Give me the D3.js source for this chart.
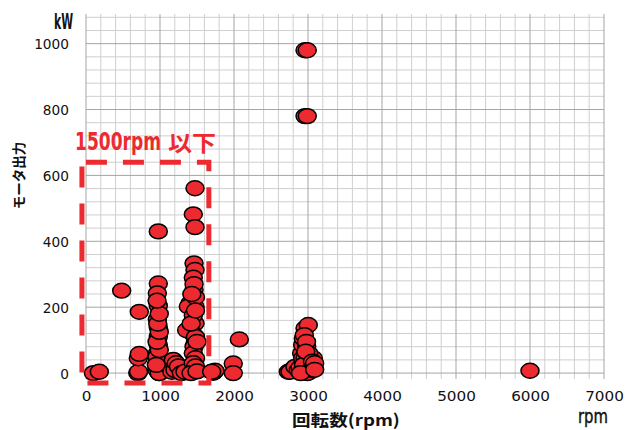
<!DOCTYPE html>
<html><head><meta charset="utf-8">
<script src="https://cdn.jsdelivr.net/npm/d3@7"></script>
<style>
html,body{margin:0;padding:0;background:#fff;}
svg{display:block;}
</style></head>
<body>
<svg id="chart" width="625" height="430"></svg>
<script>
// ---- data ----
const xTicks = [0,1000,2000,3000,4000,5000,6000,7000];
const yTicks = [0,200,400,600,800,1000];
const rpmValues = [
  100,180, 482, 720, 700,710,707,720,
  977,977,964,977,964,977,977,977,964,977,977,977,990,960,990,960,990,960,990,970,990,960,990,950,
  1180,1180,1160,1203,1220,1250,1290,
  1473,1450,1473,1460,1473,1460,1405,1473,1473,1440,1473,1460,1405,1338,1360,1383,1450,1480,1450,1480,1450,1480,1450,1480,1420,1500,1460,1420,1480,1430,1500,
  1720,1743,1698,
  1990,1990,2072,
  2734,2757,2824,2869,2892,2914,2928,2937,2960,3004,2982,2928,2960,3050,3072,3027,2960,2990,3000,2940,3010,2950,2980,3040,2900,2970,3060,3090,3090,
  2960,2990,2960,2990,
  6000
];
const kwValues = [
  0,4, 250, 186, 0,4,45,58,
  430,272,242,204,163,139,110,85,60,40,19,4,0,10,30,50,70,95,125,150,180,220,0,25,
  40,14,4,9,30,20,0,
  561,482,443,333,313,252,212,202,151,120,90,80,9,4,130,202,290,230,175,110,60,45,30,20,0,5,270,150,190,240,95,
  1,7,4,
  29,0,102,
  4,4,19,9,17,60,85,105,136,146,80,45,45,24,45,4,10,0,30,25,60,115,95,10,0,65,35,30,10,
  980,980,780,780,
  7
];
const boxRpm = [-55, 1660];
const boxKw = [-30, 640];

// ---- layout ----
const svg = d3.select('#chart');
const x = d3.scaleLinear().domain([0,7000]).range([86,604]);
const y = d3.scaleLinear().domain([-18,1090]).range([379,14]);
const red = '#ec2a30';

// gridlines
const g = svg.append('g');
const vMinor = d3.range(0,7001,200);
const hMinor = d3.range(0,1081,40);
g.selectAll('line.vm').data(vMinor.filter(v=>v%1000!==0)).enter().append('line')
  .attr('x1',d=>x(d)).attr('x2',d=>x(d)).attr('y1',y.range()[1]).attr('y2',y.range()[0])
  .attr('stroke','#cfcfcf').attr('stroke-width',1);
g.selectAll('line.hm').data(hMinor.filter(v=>v%200!==0)).enter().append('line')
  .attr('x1',x(0)).attr('x2',x(7000)).attr('y1',d=>y(d)).attr('y2',d=>y(d))
  .attr('stroke','#cfcfcf').attr('stroke-width',1);
g.selectAll('line.vM').data(xTicks).enter().append('line')
  .attr('x1',d=>x(d)).attr('x2',d=>x(d)).attr('y1',y.range()[1]).attr('y2',y.range()[0])
  .attr('stroke','#a5a5a5').attr('stroke-width',1);
g.selectAll('line.hM').data(yTicks).enter().append('line')
  .attr('x1',x(0)).attr('x2',x(7000)).attr('y1',d=>y(d)).attr('y2',d=>y(d))
  .attr('stroke','#a5a5a5').attr('stroke-width',1);

// axes tick labels
const yAxis = d3.axisLeft(y).tickValues(yTicks).tickSize(0).tickPadding(0).tickFormat(d3.format('d'));
const ya = svg.append('g').attr('transform','translate(69,0)').call(yAxis);
ya.select('.domain').remove();
ya.selectAll('text').attr('font-family','DejaVu Sans, Verdana, sans-serif').attr('font-size',13.7)
  .attr('fill','#111').attr('dy','0.36em');

const xAxis = d3.axisBottom(x).tickValues(xTicks).tickSize(0).tickPadding(0).tickFormat(d3.format('d'));
const xa = svg.append('g').attr('transform','translate(0,390)').call(xAxis);
xa.select('.domain').remove();
xa.selectAll('text').attr('font-family','DejaVu Sans, Verdana, sans-serif').attr('font-size',13.7)
  .attr('fill','#111').attr('dy','0.8em')
  .attr('textLength',d=>String(d).length*9.68).attr('lengthAdjust','spacingAndGlyphs');

// points
const pts = rpmValues.map((r,i)=>[r,kwValues[i]]);
svg.append('g').selectAll('ellipse').data(pts).enter().append('ellipse')
  .attr('cx',d=>x(d[0])).attr('cy',d=>y(d[1])).attr('rx',9).attr('ry',7.4)
  .attr('fill',red).attr('stroke','#000').attr('stroke-width',1.5);

// dashed box
const bx0=x(boxRpm[0]), bx1=x(boxRpm[1]), by0=y(boxKw[1]), by1=y(boxKw[0]);
svg.append('path')
  .attr('d',`M${bx0},${by0}H${bx1}V${by1}H${bx0}Z`)
  .attr('fill','none').attr('stroke',red).attr('stroke-width',5)
  .attr('stroke-dasharray','21,16').attr('stroke-dashoffset',33);

// text helper: places text at (tx,ty) and squeezes horizontally to width w
function fitText(str, tx, ty, w, attrs){
  const t = svg.append('text').text(str);
  Object.entries(attrs).forEach(([k,v])=>t.attr(k,v));
  const len = t.node().getComputedTextLength();
  const k = w/len;
  t.attr('transform',`translate(${tx},${ty}) scale(${k},1)`);
  return t;
}
const condBold = {'font-family':'DejaVu Sans Condensed, DejaVu Sans, sans-serif','font-weight':'bold'};

fitText('1500rpm', 75, 150, 86, Object.assign({'font-size':25,'fill':red}, condBold));
fitText('以下', 168, 151, 48, {'font-family':'Noto Sans CJK JP, sans-serif','font-weight':'bold','font-size':22,'fill':red});

fitText('kW', 54, 29, 19, Object.assign({'font-size':22,'fill':'#111'}, condBold));
fitText('rpm', 578, 423, 30, {'font-family':'DejaVu Sans Condensed, DejaVu Sans, sans-serif','font-size':19,
  'fill':'#111','stroke':'#111','stroke-width':0.4});

fitText('回転数(rpm)', 292, 426, 108, {'font-family':'Noto Sans CJK JP, sans-serif','font-weight':'bold','font-size':16,'fill':'#111'});

svg.append('text').attr('transform','translate(24,175.5) rotate(-90)').attr('text-anchor','middle')
  .text('モータ出力')
  .attr('font-family','Noto Sans CJK JP, sans-serif').attr('font-weight','bold')
  .attr('font-size',13.5).attr('fill','#111');
</script>
</body></html>
